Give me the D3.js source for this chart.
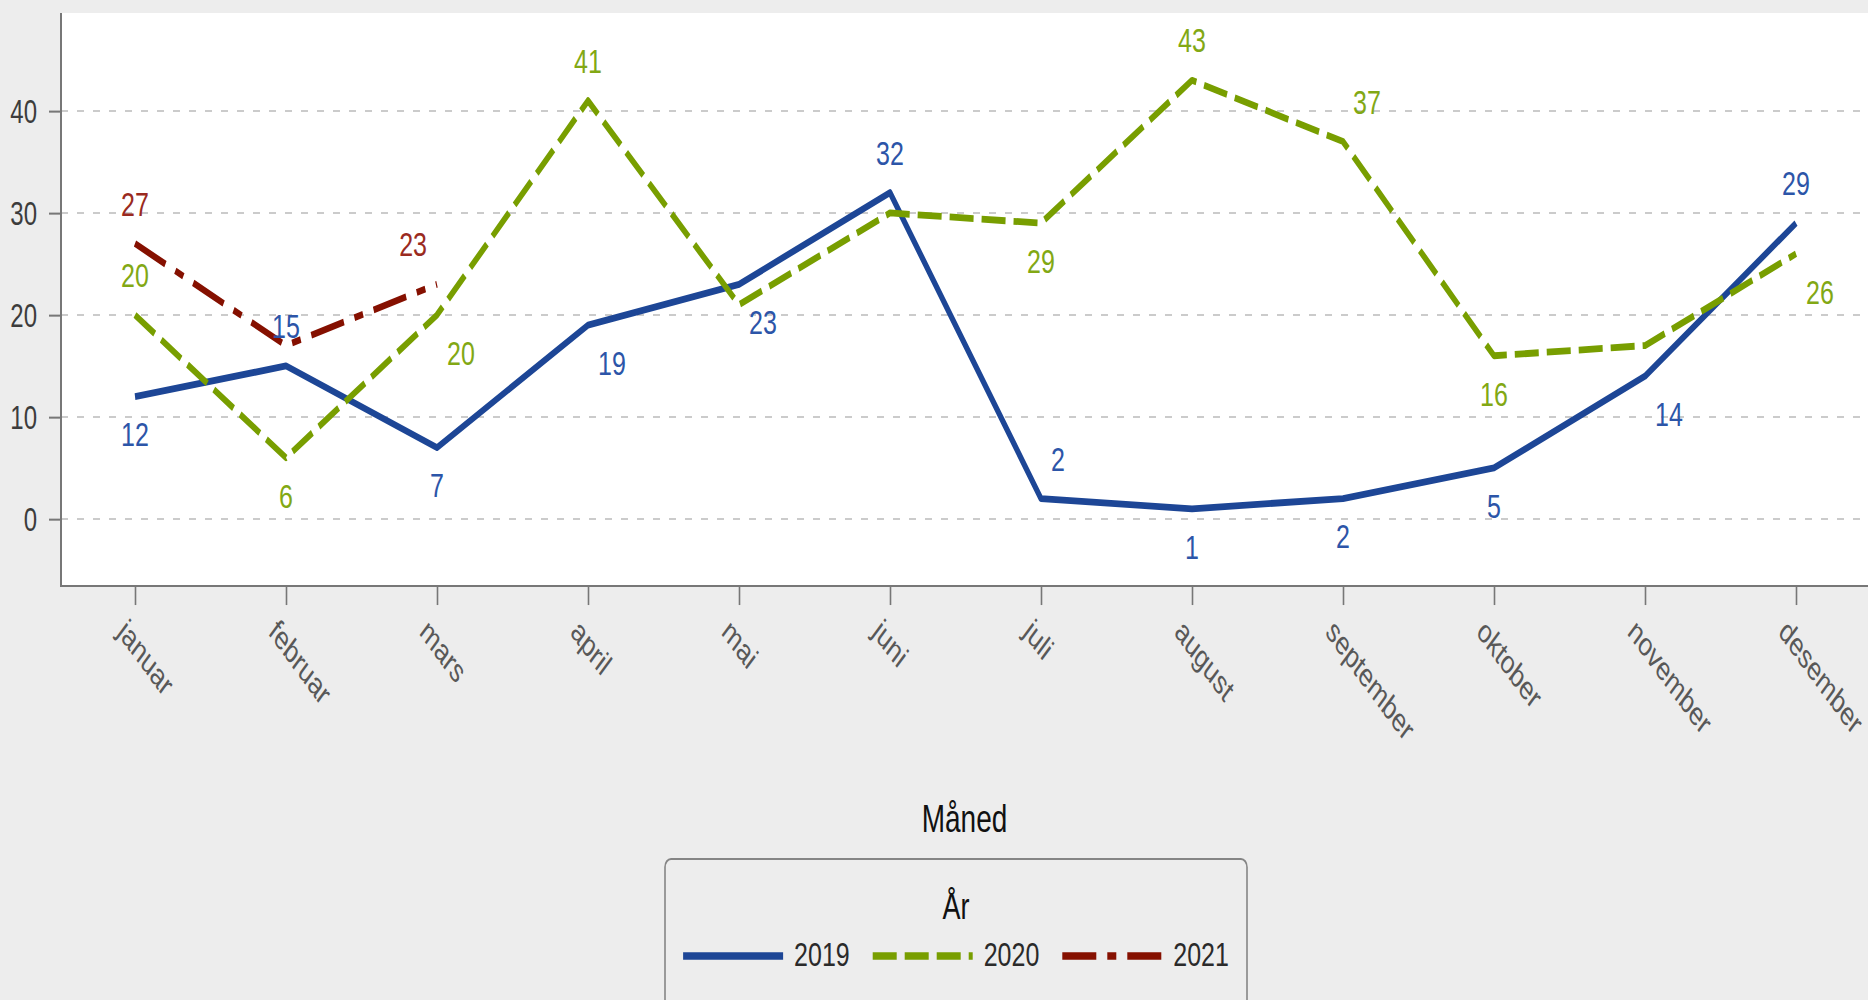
<!DOCTYPE html>
<html>
<head>
<meta charset="utf-8">
<title>Måned / År</title>
<script src="https://cdn.jsdelivr.net/npm/d3@7"></script>
<style>
html, body { margin:0; padding:0; background:#ededed; overflow:hidden; }
svg { display:block; }
text { font-family:"Liberation Sans", Arial, sans-serif; }
</style>
</head>
<body>
<script>
//chart data
var months = ["januar","februar","mars","april","mai","juni","juli","august","september","oktober","november","desember"];
var years = ["2019","2020","2021"];
var values2019 = [12,15,7,19,23,32,2,1,2,5,14,29];
var values2020 = [20,6,20,41,21,30,29,43,37,16,17,26];
var values2021 = [27,17,23];
//where each value label sits around its point ("" = label not shown)
var labels2019 = ["S","N","S","SE","SE","N","NE","S","S","S","SE","N"];
var labels2020 = ["N","S","SE","N","","","S","N","NE","S","","SE"];
var labels2021 = ["N","","NW"];
var yTicks = [0,10,20,30,40];
var xTitle = "Måned";
var legendTitle = "År";

(function(){
    //the reference picture is squeezed vertically, so draw in a shorter box and stretch it
    var width = 1868,
        height = 1000,
        stretch = 1.36,
        vbHeight = height / stretch;

    var plotLeft = 61,
        plotRight = 1868,
        plotTop = 13 / stretch,
        plotBottom = 586 / stretch;

    var series = [
        {name: years[0], values: values2019, labels: labels2019, color: "#1d4696", label: "#2c55a8", dash: null},
        {name: years[1], values: values2020, labels: labels2020, color: "#789e00", label: "#82a814", dash: "24,8"},
        {name: years[2], values: values2021, labels: labels2021, color: "#851000", label: "#9a2a20", dash: "34,11,9,11"}
    ];

    var svg = d3.select("body")
        .append("svg")
        .attr("width", width)
        .attr("height", height)
        .attr("viewBox", "0 0 " + width + " " + vbHeight)
        .attr("preserveAspectRatio", "none");

    //scales
    var x = d3.scalePoint()
        .domain(months)
        .range([135, 1796]);

    var y = d3.scaleLinear()
        .domain([-6.57, 49.6])
        .range([plotBottom, plotTop]);

    //white plot area
    svg.append("rect")
        .attr("x", plotLeft)
        .attr("y", plotTop)
        .attr("width", plotRight - plotLeft + 2)
        .attr("height", plotBottom - plotTop)
        .attr("fill", "#ffffff");

    //dashed gridlines
    svg.append("g")
        .selectAll("line")
        .data(yTicks)
        .enter()
        .append("line")
        .attr("x1", plotLeft)
        .attr("x2", plotRight)
        .attr("y1", function(d){ return y(d); })
        .attr("y2", function(d){ return y(d); })
        .attr("stroke", "#cbcbcb")
        .attr("stroke-width", 1.4)
        .attr("stroke-dasharray", "7,9");

    //y axis
    var yAxis = svg.append("g")
        .attr("transform", "translate(" + plotLeft + ",0)")
        .call(d3.axisLeft(y).tickValues(yTicks).tickSize(12).tickSizeOuter(0).tickPadding(12));
    yAxis.select(".domain").remove();
    yAxis.selectAll(".tick line").attr("stroke", "#777").attr("stroke-width", 1.5);
    yAxis.selectAll(".tick text")
        .attr("fill", "#3c3c3c")
        .attr("font-size", 24)
        .attr("dy", "0.36em");

    //x axis
    var xAxis = svg.append("g")
        .attr("transform", "translate(0," + plotBottom + ")")
        .call(d3.axisBottom(x).tickSize(14).tickSizeOuter(0));
    xAxis.select(".domain").remove();
    xAxis.selectAll(".tick line").attr("stroke", "#777").attr("stroke-width", 1.6);
    xAxis.selectAll(".tick text")
        .attr("fill", "#585858")
        .attr("font-size", 24)
        .attr("text-anchor", "start")
        .attr("x", -19)
        .attr("y", 35)
        .attr("dy", 0)
        .attr("transform", "rotate(45,-19,35)");

    //axis lines
    svg.append("line")
        .attr("x1", plotLeft).attr("x2", plotLeft)
        .attr("y1", plotTop).attr("y2", plotBottom)
        .attr("stroke", "#777").attr("stroke-width", 2);
    svg.append("line")
        .attr("x1", plotLeft - 1).attr("x2", plotRight + 2)
        .attr("y1", plotBottom).attr("y2", plotBottom)
        .attr("stroke", "#777").attr("stroke-width", 1.5);

    //series lines
    var line = d3.line()
        .x(function(d, i){ return x(months[i]); })
        .y(function(d){ return y(d); });

    series.forEach(function(s){
        svg.append("path")
            .datum(s.values)
            .attr("d", line)
            .attr("fill", "none")
            .attr("stroke", s.color)
            .attr("stroke-width", 5)
            .attr("stroke-linejoin", "round")
            .attr("stroke-dasharray", s.dash);
    });

    //value labels
    series.forEach(function(s){
        var pts = s.values.map(function(v, i){ return {v: v, i: i, pos: s.labels[i]}; })
            .filter(function(p){ return p.pos; });
        svg.append("g")
            .selectAll("text")
            .data(pts)
            .enter()
            .append("text")
            .attr("x", function(p){
                var px = x(months[p.i]);
                if (p.pos.indexOf("E") > -1) return px + 10;
                if (p.pos.indexOf("W") > -1) return px - 10;
                return px;
            })
            .attr("y", function(p){
                return y(p.v) + (p.pos.charAt(0) == "N" ? -29.5 : 27.6);
            })
            .attr("dy", "0.36em")
            .attr("text-anchor", function(p){
                if (p.pos.indexOf("E") > -1) return "start";
                if (p.pos.indexOf("W") > -1) return "end";
                return "middle";
            })
            .attr("font-size", 25)
            .attr("fill", s.label)
            .text(function(p){ return p.v; });
    });

    //x axis title
    svg.append("text")
        .attr("x", (plotLeft + plotRight) / 2)
        .attr("y", 832 / stretch)
        .attr("text-anchor", "middle")
        .attr("font-size", 28)
        .attr("fill", "#111")
        .text(xTitle);

    //legend box
    var boxLeft = 665,
        boxRight = 1247,
        boxTop = 859 / stretch,
        boxMid = (boxLeft + boxRight) / 2;

    svg.append("rect")
        .attr("x", boxLeft)
        .attr("y", boxTop)
        .attr("width", boxRight - boxLeft)
        .attr("height", 200)
        .attr("rx", 6)
        .attr("fill", "none")
        .attr("stroke", "#858585")
        .attr("stroke-width", 1.6);

    svg.append("text")
        .attr("x", boxMid)
        .attr("y", 919 / stretch)
        .attr("text-anchor", "middle")
        .attr("font-size", 27)
        .attr("fill", "#111")
        .text(legendTitle);

    //legend entries, laid out from measured widths and centred in the box
    var sampleLen = 100, textGap = 11, entryGap = 23,
        rowBase = 966 / stretch, rowLine = 956 / stretch;

    var items = svg.append("g");
    var entries = series.map(function(s){
        var g = items.append("g");
        g.append("line")
            .attr("x1", 0).attr("x2", sampleLen)
            .attr("y1", rowLine).attr("y2", rowLine)
            .attr("stroke", s.color)
            .attr("stroke-width", 5.5)
            .attr("stroke-dasharray", s.dash);
        var t = g.append("text")
            .attr("x", sampleLen + textGap)
            .attr("y", rowBase)
            .attr("font-size", 25)
            .attr("fill", "#2a2a2a")
            .text(s.name);
        return {g: g, w: sampleLen + textGap + t.node().getComputedTextLength()};
    });
    var total = d3.sum(entries, function(e){ return e.w; }) + entryGap * (entries.length - 1);
    var cx = boxMid - total / 2;
    entries.forEach(function(e){
        e.g.attr("transform", "translate(" + cx + ",0)");
        cx += e.w + entryGap;
    });
})();
</script>
</body>
</html>
